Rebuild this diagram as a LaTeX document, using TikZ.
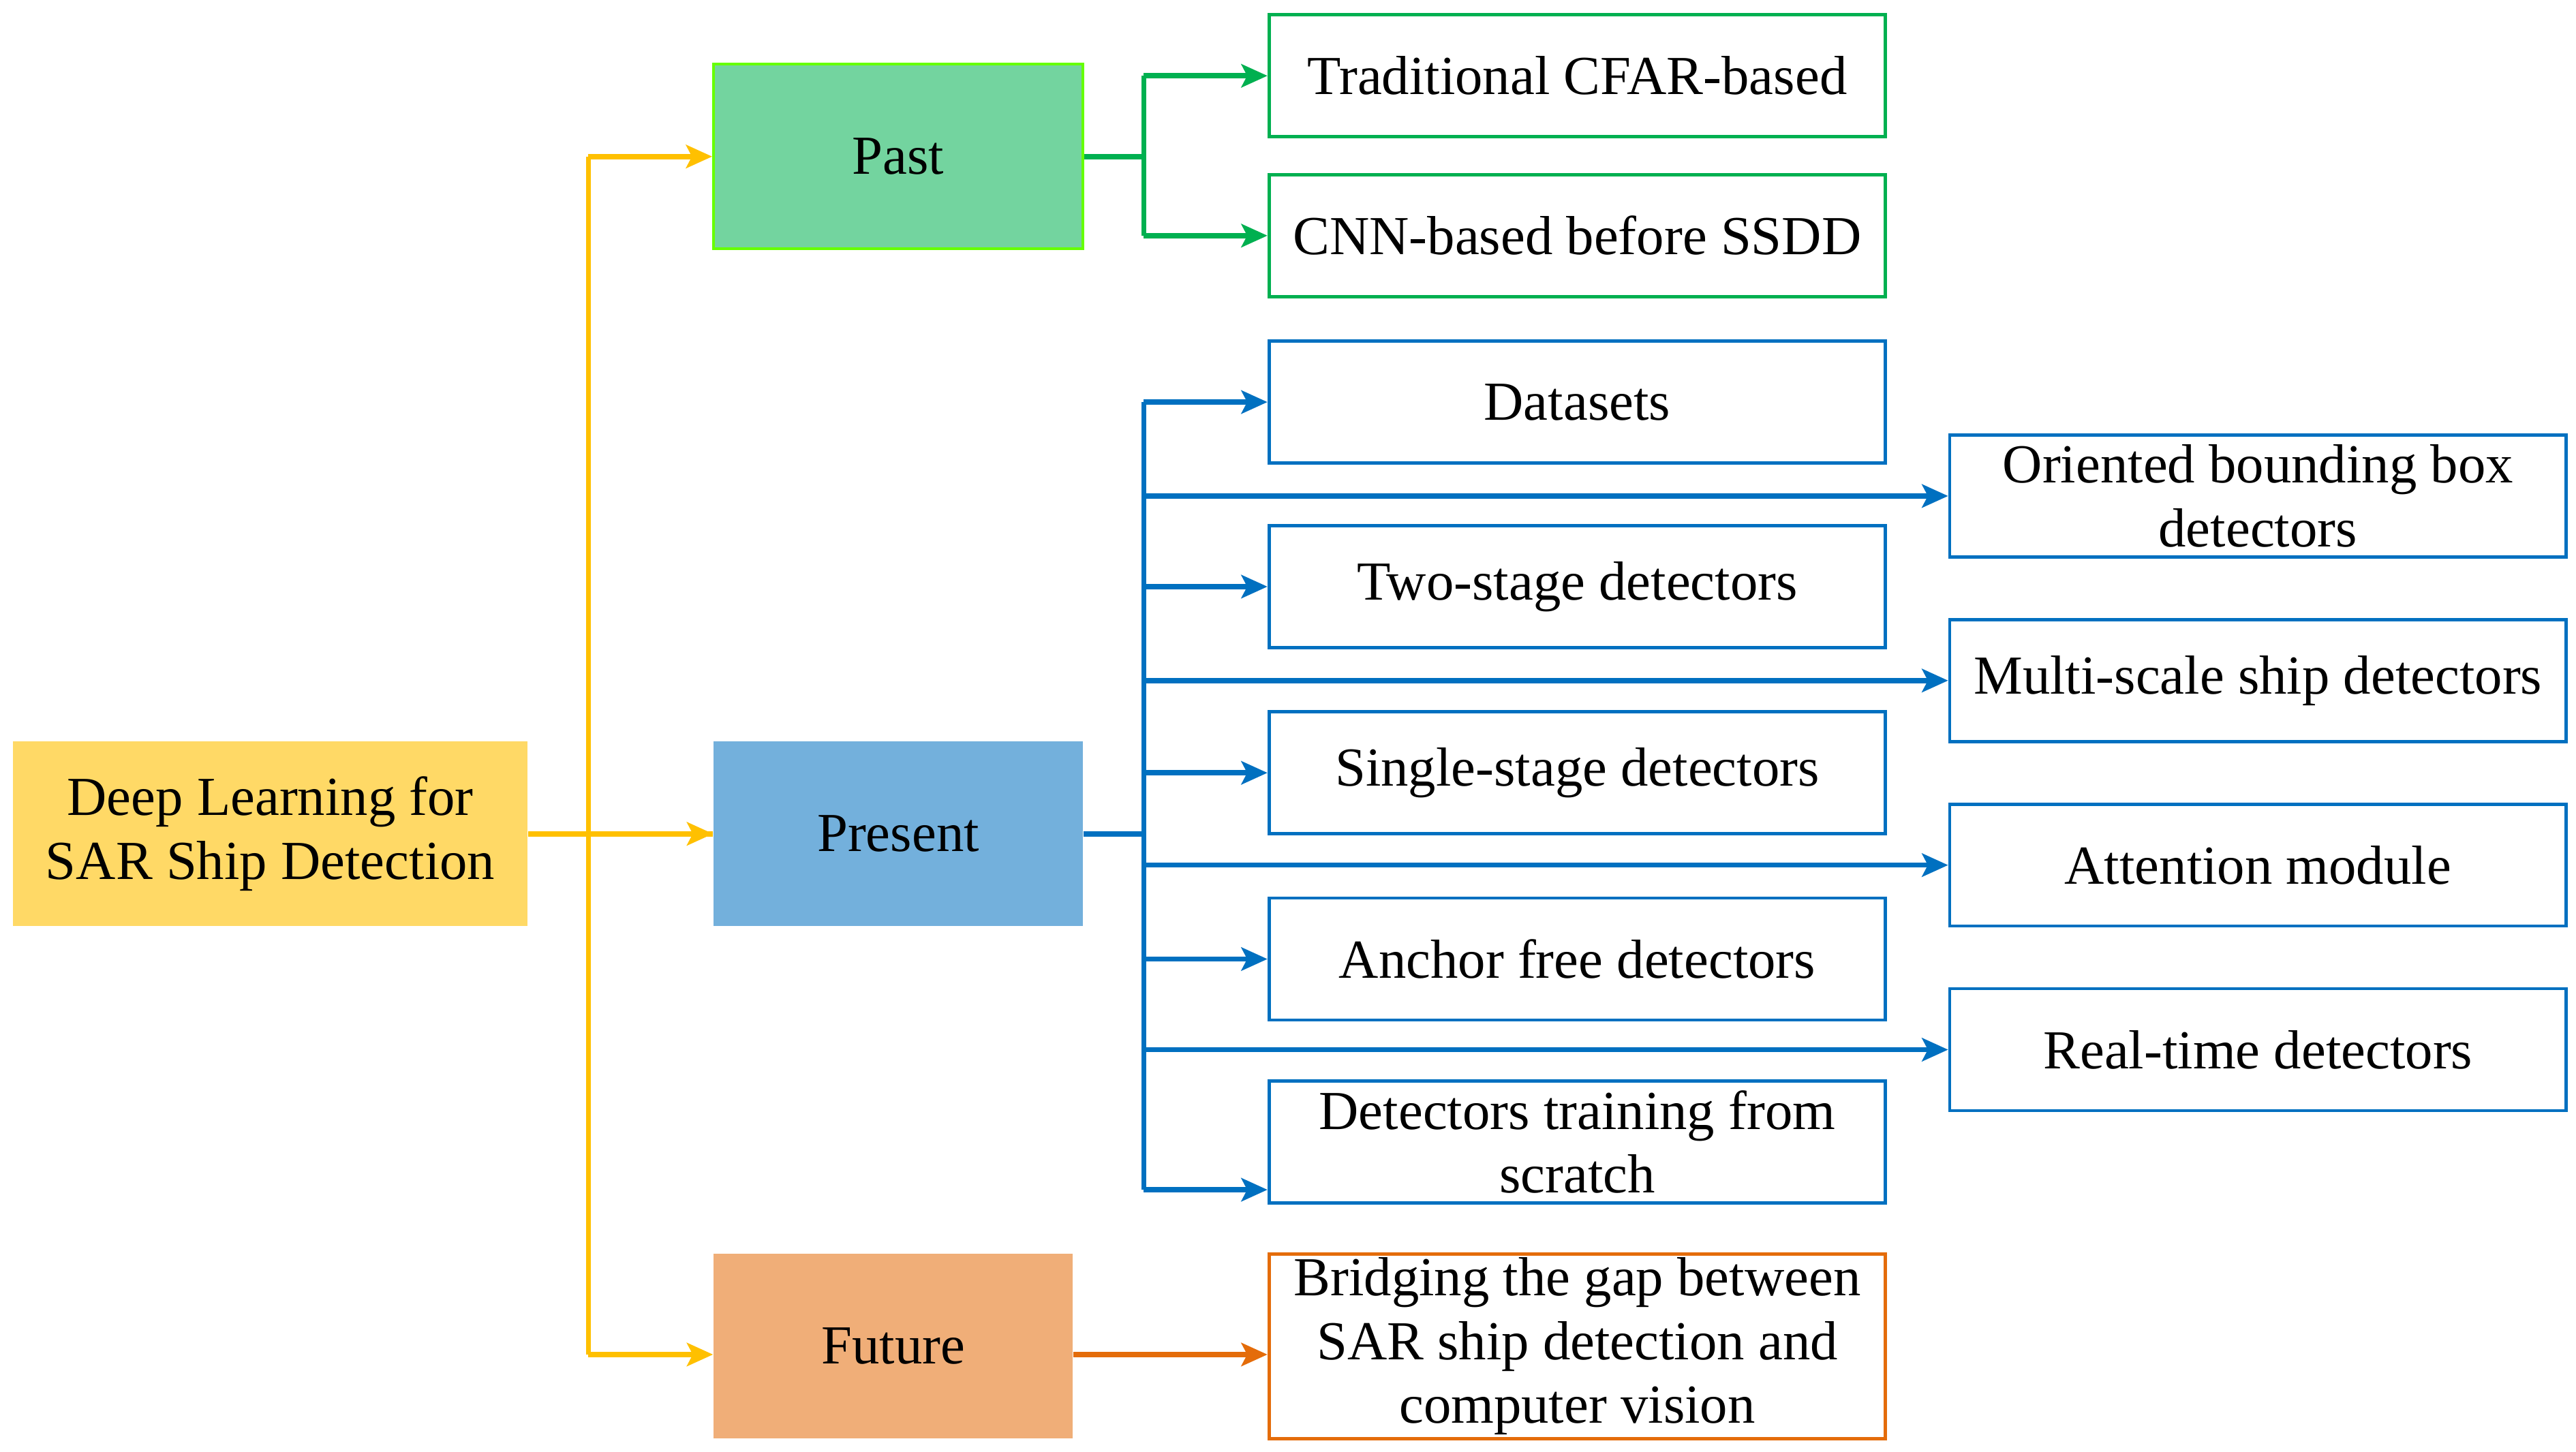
\documentclass[tikz,border=0pt]{standalone}
\usepackage{fontspec}
\setmainfont{Liberation Serif}
\usetikzlibrary{arrows.meta}
\definecolor{cy}{HTML}{FFC000}
\definecolor{cg}{HTML}{00B050}
\definecolor{cb}{HTML}{0070C0}
\definecolor{co}{HTML}{E46C0A}
\begin{document}
\begin{tikzpicture}[x=0.02cm,y=-0.02cm,
  txt/.style={font=\fontsize{19}{22}\selectfont,align=center,inner sep=0pt},
  fb/.style={txt,minimum width=224*0.02cm,minimum height=112*0.02cm},
  ob/.style={txt,draw,line width=1.1pt,fill=white,minimum width=374*0.02cm,minimum height=74*0.02cm},
  ar/.style={line width=1.8pt,-{Stealth[length=9pt,width=8pt,inset=2pt]}},
  ln/.style={line width=1.8pt}]
\useasboundingbox (0,0) rectangle (1563,881);
\node[fb,fill=cy!60,minimum width=312*0.02cm] (dl) at (164,506) {Deep Learning for\\SAR Ship Detection};
\node[fb,fill=cg!55,draw=green!60!yellow,line width=1pt] (past) at (545,95) {Past};
\node[fb,fill=cb!55] (pres) at (545,506) {Present};
\node[fb,fill=co!55,minimum width=218*0.02cm] (fut) at (542,817) {Future};
\node[ob,draw=cg] (t1) at (957,46) {Traditional CFAR-based};
\node[ob,draw=cg] (t2) at (957,143) {CNN-based before SSDD};
\node[ob,draw=cb] (d1) at (957,244) {Datasets};
\node[ob,draw=cb] (d2) at (957,356) {Two-stage detectors};
\node[ob,draw=cb] (d3) at (957,469) {Single-stage detectors};
\node[ob,draw=cb] (d4) at (957,582) {Anchor free detectors};
\node[ob,draw=cb] (d5) at (957,693) {Detectors training from\\scratch};
\node[ob,draw=co,minimum height=112*0.02cm] (br) at (957,817) {Bridging the gap between\\SAR ship detection and\\computer vision};
\node[ob,draw=cb] (r1) at (1370,301) {Oriented bounding box\\detectors};
\node[ob,draw=cb] (r2) at (1370,413) {Multi-scale ship detectors};
\node[ob,draw=cb] (r3) at (1370,525) {Attention module};
\node[ob,draw=cb] (r4) at (1370,637) {Real-time detectors};
% yellow
\coordinate (ya) at (357,95); \coordinate (yc) at (357,822);
\draw[ln,cy] (dl.east) -- (pres.west);
\draw[ln,cy] (ya) -- (yc);
\draw[ar,cy] (ya) -- (past.west);
\draw[ar,cy] (357,506) -- (pres.west);
\draw[ar,cy] (yc) -- (fut.west |- yc);
% green
\coordinate (ga) at (694,46); \coordinate (gb) at (694,143);
\draw[ln,cg] (past.east) -- (694,95);
\draw[ln,cg] (ga) -- (gb);
\draw[ar,cg] (ga) -- (t1.west);
\draw[ar,cg] (gb) -- (t2.west);
% blue
\coordinate (ba) at (694,244); \coordinate (bb) at (694,722);
\draw[ln,cb] (pres.east) -- (694,506);
\draw[ln,cb] (ba) -- (bb);
\draw[ar,cb] (ba) -- (d1.west);
\draw[ar,cb] (694,356) -- (d2.west);
\draw[ar,cb] (694,469) -- (d3.west);
\draw[ar,cb] (694,582) -- (d4.west);
\draw[ar,cb] (bb) -- (d5.west |- bb);
\draw[ar,cb] (694,301) -- (r1.west);
\draw[ar,cb] (694,413) -- (r2.west);
\draw[ar,cb] (694,525) -- (r3.west);
\draw[ar,cb] (694,637) -- (r4.west);
% orange
\draw[ar,co] (fut.east |- 0,822) -- (br.west |- 0,822);
\end{tikzpicture}
\end{document}
